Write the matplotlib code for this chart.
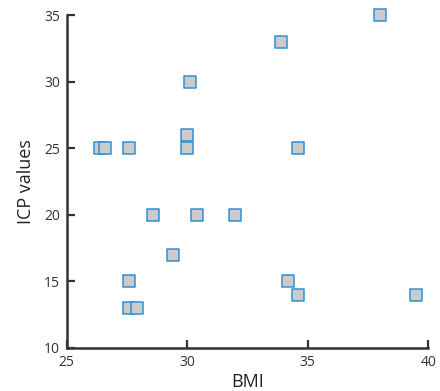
import matplotlib
matplotlib.use("Agg")
import matplotlib.pyplot as plt

# BMI vs ICP values
bmi = [26.4, 26.6, 27.6, 30.1, 30.0, 30.0, 28.6, 30.4, 32.0, 29.4,
       27.6, 27.6, 27.9, 38.0, 33.9, 34.6, 34.2, 34.6, 39.5]
icp = [25, 25, 25, 30, 26, 25, 20, 20, 20, 17,
       15, 13, 13, 35, 33, 25, 15, 14, 14]

x_ticks = [25, 30, 35, 40]
y_ticks = [10, 15, 20, 25, 30, 35]

plt.rcParams['font.family'] = ['Open Sans', 'DejaVu Sans']

fig = plt.figure(figsize=(4.4, 3.91), dpi=100)
ax = fig.add_axes([0.1516, 0.11, 0.8218, 0.8506])

ax.scatter(bmi, icp, marker='s', s=78, facecolor='#cbcbcb',
           edgecolor='#2f8fd6', linewidth=1.1, zorder=3, clip_on=False)

ax.set_xlim(25, 40)
ax.set_ylim(10, 35)
ax.set_xticks(x_ticks)
ax.set_yticks(y_ticks)

for side in ['top', 'right']:
    ax.spines[side].set_visible(False)
for side in ['left', 'bottom']:
    ax.spines[side].set_color('#333333')
    ax.spines[side].set_linewidth(1.8)

ax.tick_params(direction='in', length=6, width=1.6, color='#333333',
               labelsize=10, labelcolor='#333333', pad=5)

ax.set_xlabel("BMI", fontsize=13, color='#222222', labelpad=2)
ax.set_ylabel("ICP values", fontsize=13, color='#222222', labelpad=6)

fig.savefig("out.png", dpi=100)
